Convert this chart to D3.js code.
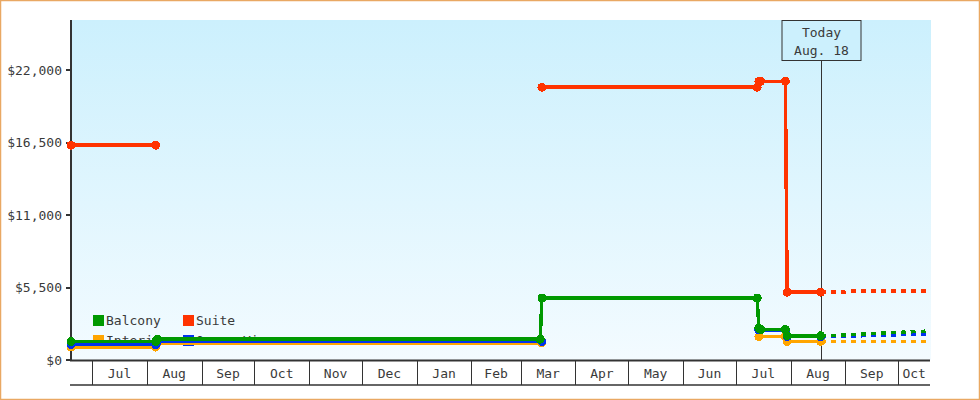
<!DOCTYPE html>
<html>
<head>
<meta charset="utf-8">
<script src="https://cdn.jsdelivr.net/npm/d3@7"></script>
<style>
  html, body { margin: 0; padding: 0; background: #fff; }
  svg { display: block; }
  text { font-family: "DejaVu Sans Mono", monospace; font-size: 13px; fill: #3a3a3a; }
</style>
</head>
<body>
<svg id="chart" width="980" height="400"></svg>
<script>
// ---------- data ----------
const categories = ["Balcony", "Suite", "Interior", "Ocean View"];
const colors = ["#009900", "#ff3300", "#ffa500", "#0033ee"];
const yTicks = [0, 5500, 11000, 16500, 22000];
const todayDate = "2023-08-18";
const todayLabel = ["Today", "Aug. 18"];
const domainStart = "2022-06-19";
const domainEnd = "2023-10-19";

const balcony = [
  ["2022-06-19", 1400], ["2022-08-06", 1400], ["2022-08-07", 1580],
  ["2023-03-12", 1580], ["2023-03-13", 4700], ["2023-07-13", 4700],
  ["2023-07-14", 2420], ["2023-07-15", 2320], ["2023-07-29", 2320],
  ["2023-07-30", 1840], ["2023-08-18", 1840]
];
const suite = [
  ["2022-06-19", 16300], ["2022-08-06", 16300], ["2022-08-07", null],
  ["2023-03-13", 20700], ["2023-07-13", 20700], ["2023-07-14", 21150],
  ["2023-07-15", 21150], ["2023-07-29", 21150], ["2023-07-30", 5150],
  ["2023-08-18", 5150]
];
const interior = [
  ["2022-06-19", 980], ["2022-08-06", 980], ["2022-08-07", 1300],
  ["2023-03-13", 1300], ["2023-03-14", null],
  ["2023-07-14", 1770], ["2023-07-29", 1770], ["2023-07-30", 1410],
  ["2023-08-18", 1410]
];
const oceanView = [
  ["2022-06-19", 1160], ["2022-08-06", 1160], ["2022-08-07", 1400],
  ["2023-03-13", 1400], ["2023-03-14", null],
  ["2023-07-14", 2280], ["2023-07-29", 2280], ["2023-07-30", 1770],
  ["2023-08-18", 1770]
];

const balconyForecast = [
  ["2023-08-18", 1840], ["2023-08-25", 1870], ["2023-09-01", 1900],
  ["2023-09-08", 1960], ["2023-09-20", 2030], ["2023-10-01", 2090],
  ["2023-10-08", 2140], ["2023-10-19", 2200]
];
const suiteForecast = [
  ["2023-08-18", 5150], ["2023-08-31", 5150], ["2023-09-03", 5230],
  ["2023-10-19", 5230]
];
const interiorForecast = [
  ["2023-08-18", 1410], ["2023-10-19", 1410]
];
const oceanViewForecast = [
  ["2023-08-18", 1770], ["2023-08-25", 1770], ["2023-09-01", 1790],
  ["2023-09-08", 1830], ["2023-09-20", 1880], ["2023-10-01", 1920],
  ["2023-10-08", 1950], ["2023-10-19", 1990]
];

// ---------- setup ----------
const parse = d3.timeParse("%Y-%m-%d");
const svg = d3.select("#chart");
const L = 71, R = 930, T = 20, B = 360;

const x = d3.scaleTime().domain([parse(domainStart), parse(domainEnd)]).range([L, R]);
const y = d3.scaleLinear().domain([0, 25800]).range([B, T]);

// outer border
svg.append("rect").attr("x", 0.5).attr("y", 0.5).attr("width", 979).attr("height", 399)
  .attr("fill", "#fff").attr("stroke", "#e9a863").attr("stroke-width", 1.5);

// background gradient
const defs = svg.append("defs");
const grad = defs.append("linearGradient").attr("id", "bg").attr("x1", 0).attr("y1", 0).attr("x2", 0).attr("y2", 1);
grad.append("stop").attr("offset", "0%").attr("stop-color", "#ccf0fd");
grad.append("stop").attr("offset", "100%").attr("stop-color", "#f3fbff");
svg.append("rect").attr("x", L).attr("y", T).attr("width", R + 1 - L).attr("height", B - T).attr("fill", "url(#bg)");

// y axis
const yAxis = svg.append("g");
yAxis.append("line").attr("x1", L).attr("x2", L).attr("y1", T).attr("y2", B + 1)
  .attr("stroke", "#333").attr("stroke-width", 2);
yAxis.selectAll("line.tick").data(yTicks).join("line").attr("class", "tick")
  .attr("x1", L - 5).attr("x2", L).attr("y1", d => Math.round(y(d))).attr("y2", d => Math.round(y(d)))
  .attr("stroke", "#333").attr("stroke-width", 2);
const fmt = d3.format("$,");
yAxis.selectAll("text").data(yTicks).join("text")
  .attr("x", 62).attr("y", d => y(d)).attr("dy", "0.35em").attr("text-anchor", "end")
  .text(d => fmt(d));

// x axis (month bands)
const xAxis = svg.append("g");
xAxis.append("line").attr("x1", L - 1).attr("x2", R).attr("y1", B + 0.5).attr("y2", B + 0.5)
  .attr("stroke", "#333").attr("stroke-width", 2);
xAxis.append("line").attr("x1", L - 1).attr("x2", R).attr("y1", 385).attr("y2", 385)
  .attr("stroke", "#333").attr("stroke-width", 1.3);
const months = d3.timeMonth.range(d3.timeMonth.ceil(x.domain()[0]), x.domain()[1]);
xAxis.selectAll("line.sep").data(months).join("line").attr("class", "sep")
  .attr("x1", d => Math.round(x(d)) + 0.5).attr("x2", d => Math.round(x(d)) + 0.5)
  .attr("y1", B).attr("y2", 385).attr("stroke", "#333").attr("stroke-width", 1);
const bands = d3.timeMonth.range(d3.timeMonth.floor(x.domain()[0]), x.domain()[1]).map(d => {
  const a = Math.max(x(d), L), b = Math.min(x(d3.timeMonth.offset(d, 1)), R);
  return { d, a, b };
}).filter(o => o.b - o.a > 25);
const monthFmt = d3.timeFormat("%b");
xAxis.selectAll("text").data(bands).join("text")
  .attr("x", o => (o.a + o.b) / 2).attr("y", 377.5).attr("text-anchor", "middle")
  .text(o => monthFmt(o.d));

// legend
const legend = svg.append("g");
categories.forEach((c, i) => {
  const lx = 93 + (i % 2) * 90, ly = 315 + Math.floor(i / 2) * 20;
  legend.append("rect").attr("x", lx).attr("y", ly).attr("width", 11).attr("height", 11).attr("fill", colors[i]);
  legend.append("text").attr("x", lx + 13).attr("y", ly + 10).text(c);
});

// today marker
const tx = Math.round(x(parse(todayDate))) + 0.5;
svg.append("line").attr("x1", tx).attr("x2", tx).attr("y1", 60).attr("y2", B)
  .attr("stroke", "#333").attr("stroke-width", 1);
svg.append("rect").attr("x", tx - 39.5).attr("y", 20.5).attr("width", 79).attr("height", 40)
  .attr("fill", "#ccf0fd").attr("stroke", "#333").attr("stroke-width", 1);
svg.append("text").attr("x", tx).attr("y", 37).attr("text-anchor", "middle").text(todayLabel[0]);
svg.append("text").attr("x", tx).attr("y", 55).attr("text-anchor", "middle").text(todayLabel[1]);

// series
const line = d3.line().defined(d => d[1] != null).x(d => x(parse(d[0]))).y(d => y(d[1]));
const series = [
  { data: interior, fc: interiorForecast, color: colors[2] },
  { data: oceanView, fc: oceanViewForecast, color: colors[3] },
  { data: suite, fc: suiteForecast, color: colors[1] },
  { data: balcony, fc: balconyForecast, color: colors[0] }
];
const marks = svg.append("g");
series.forEach(s => {
  marks.append("path").datum(s.fc).attr("d", line).attr("fill", "none")
    .attr("stroke", s.color).attr("stroke-width", 3.5).attr("stroke-dasharray", "5,5")
    .attr("shape-rendering", "crispEdges");
});
series.forEach(s => {
  const g = marks.append("g");
  g.append("path").datum(s.data).attr("d", line).attr("fill", "none")
    .attr("stroke", s.color).attr("stroke-width", 3.5).attr("shape-rendering", "crispEdges");
  g.selectAll("circle").data(s.data.filter(d => d[1] != null)).join("circle")
    .attr("cx", d => x(parse(d[0]))).attr("cy", d => y(d[1])).attr("r", 4.5)
    .attr("fill", s.color).attr("shape-rendering", "crispEdges");
});
</script>
</body>
</html>
